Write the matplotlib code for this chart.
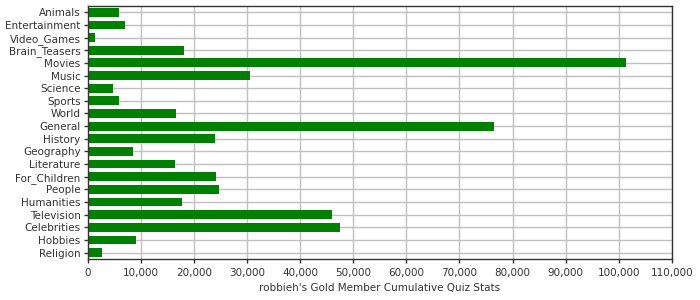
import matplotlib.pyplot as plt
from matplotlib.ticker import FuncFormatter, MultipleLocator

# categories top to bottom
categories = ['Animals', 'Entertainment', 'Video_Games', 'Brain_Teasers', 'Movies',
              'Music', 'Science', 'Sports', 'World', 'General', 'History',
              'Geography', 'Literature', 'For_Children', 'People', 'Humanities',
              'Television', 'Celebrities', 'Hobbies', 'Religion']
values = [5950, 7080, 1420, 18200, 101400, 30500, 4800, 5950, 16600, 76500,
          24060, 8580, 16500, 24250, 24800, 17830, 46100, 47600, 9150, 2740]
xlabel = "robbieh's Gold Member Cumulative Quiz Stats"

fig = plt.figure(figsize=(7, 3), dpi=100)
ax = fig.add_axes([0.125, 0.137, 0.835, 0.843])

ypos = list(range(len(categories)))
ax.barh(ypos, values, height=0.7, color='#008000', zorder=2)

ax.set_ylim(len(categories) - 0.5, -0.5)
ax.set_xlim(0, 110000)
ax.set_yticks(ypos)
ax.set_yticklabels(categories)
ax.xaxis.set_major_locator(MultipleLocator(10000))
ax.xaxis.set_major_formatter(FuncFormatter(lambda v, p: f'{int(v):,}'))

ax.grid(True, color='#c0c0c0', linewidth=1, zorder=0)
ax.set_axisbelow(True)
for s in ax.spines.values():
    s.set_color('#333333')
    s.set_linewidth(1)
ax.tick_params(length=3, width=1, color='#333333', labelsize=7.5,
               labelcolor='#333333', pad=2)
ax.tick_params(axis='x', pad=3.5)
ax.set_xlabel(xlabel, fontsize=7.5, color='#333333', labelpad=4)

fig.savefig('out.png', dpi=100)
